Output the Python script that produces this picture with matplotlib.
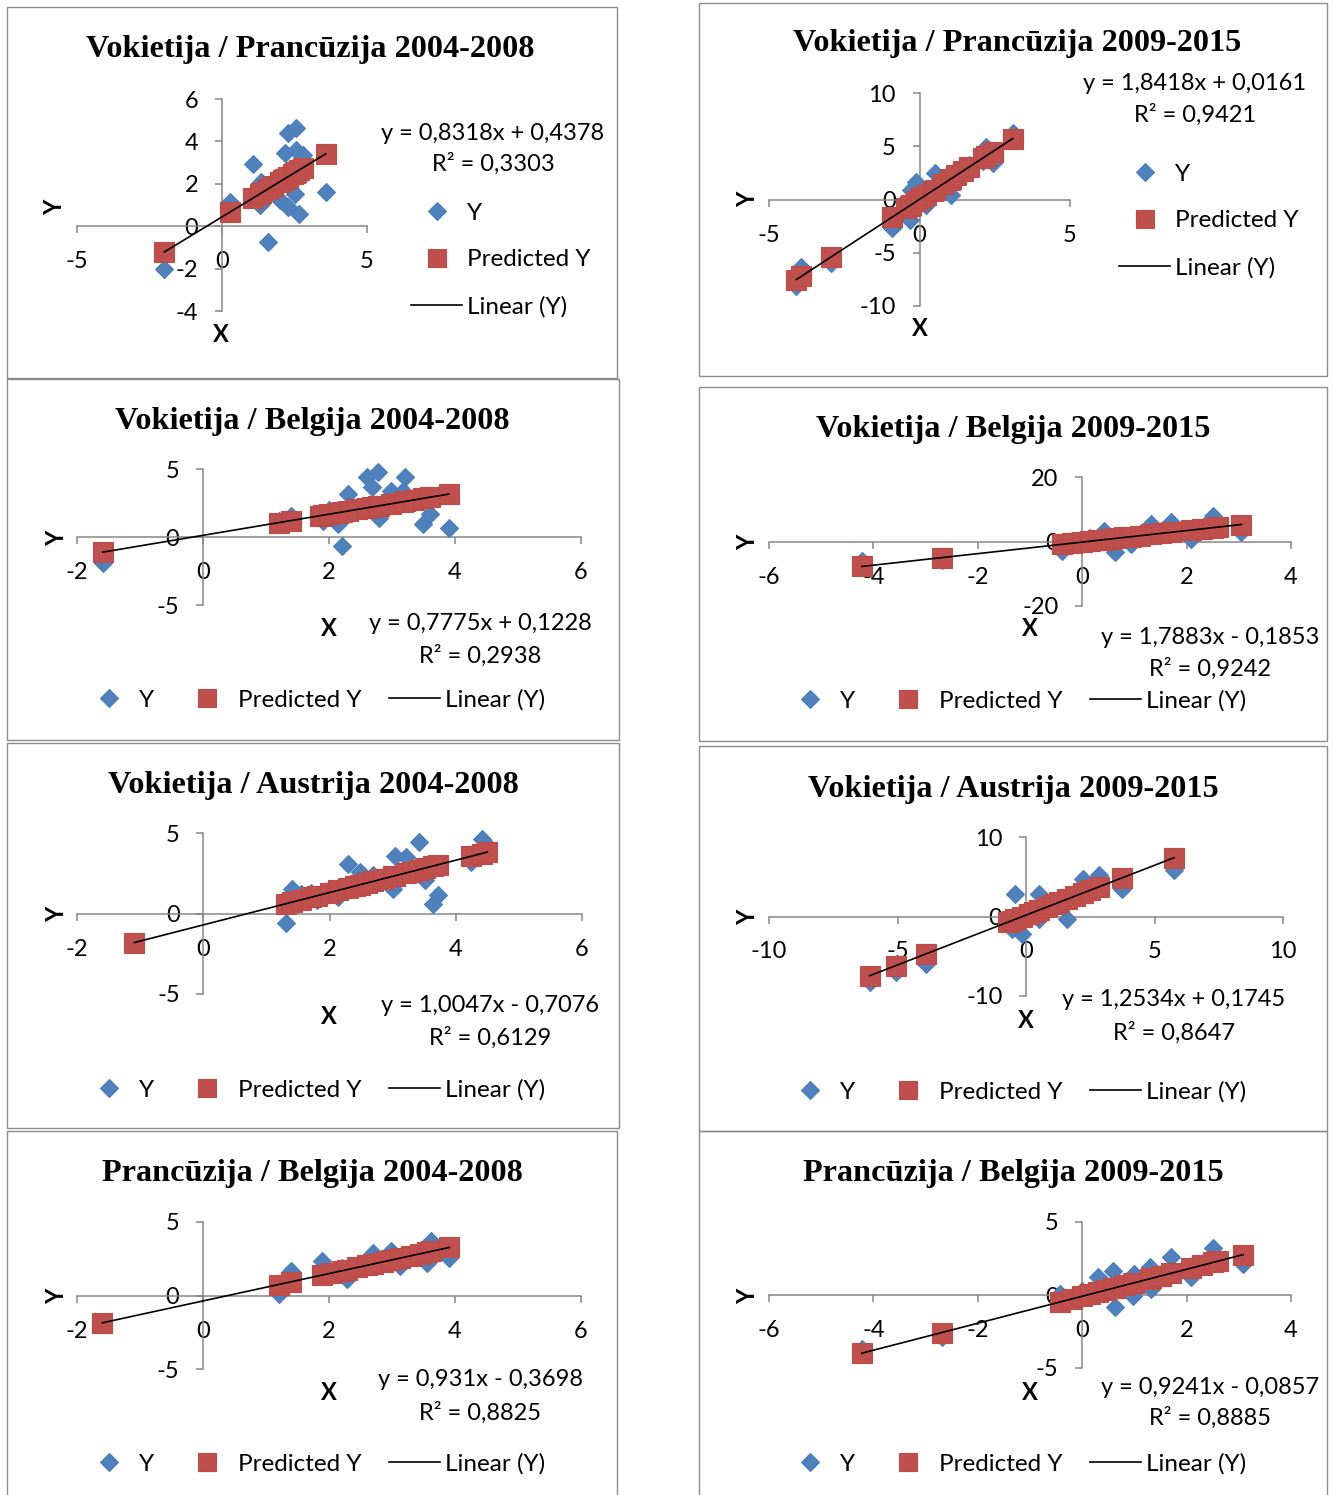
import matplotlib
matplotlib.use("Agg")
import matplotlib.pyplot as plt
from matplotlib.lines import Line2D
from matplotlib.patches import Rectangle

W, H, DPI = 1333, 1495, 100
BLUE, BLUE_E = "#4F81BD", "#4A7EBB"
RED, RED_E = "#C0504D", "#BE4B48"
GRAY = "#868686"
SANS = ["Lato", "DejaVu Sans"]
SERIF = ["Liberation Serif", "DejaVu Serif"]

# ---------------- data ----------------
titles = [
    "Vokietija / Prancūzija 2004-2008", "Vokietija / Prancūzija 2009-2015",
    "Vokietija / Belgija 2004-2008", "Vokietija / Belgija 2009-2015",
    "Vokietija / Austrija 2004-2008", "Vokietija / Austrija 2009-2015",
    "Prancūzija / Belgija 2004-2008", "Prancūzija / Belgija 2009-2015",
]
equations = [
    "y = 0,8318x + 0,4378", "y = 1,8418x + 0,0161",
    "y = 0,7775x + 0,1228", "y = 1,7883x - 0,1853",
    "y = 1,0047x - 0,7076", "y = 1,2534x + 0,1745",
    "y = 0,931x - 0,3698", "y = 0,9241x - 0,0857",
]
r2_labels = [
    "R² = 0,3303", "R² = 0,9421", "R² = 0,2938", "R² = 0,9242",
    "R² = 0,6129", "R² = 0,8647", "R² = 0,8825", "R² = 0,8885",
]
legend_labels = ["Y", "Predicted Y", "Linear (Y)"]

# 1: Vokietija / Prancuzija 2004-2008
x1 = [-1.99, 0.28, 1.08, 1.31, 1.36, 1.59, 1.75, 1.99, 2.10, 2.16, 2.27, 2.27, 2.44, 2.50, 2.56, 2.56, 2.67, 2.78, 3.58]
y1 = [-2.02, 1.14, 2.95, 0.98, 2.08, -0.76, 1.70, 1.22, 2.30, 3.43, 4.38, 0.90, 2.48, 1.53, 4.61, 3.59, 0.58, 3.35, 1.61]
p1 = [-1.217, 0.671, 1.336, 1.527, 1.569, 1.760, 1.893, 2.093, 2.185, 2.235, 2.326, 2.326, 2.467, 2.517, 2.567, 2.567, 2.659, 2.750, 3.416]

# 2: Vokietija / Prancuzija 2009-2015
x2 = [-4.09, -3.93, -2.93, -0.91, -0.44, -0.33, -0.28, -0.11, 0.06, 0.22, 0.44, 0.50, 0.77, 1.00, 1.05, 1.22, 1.44, 1.66, 2.10, 2.21, 2.43, 3.10]
y2 = [-8.10, -6.35, -6.00, -2.70, -0.50, -1.95, 0.88, 1.67, 0.30, -0.53, 1.20, 2.45, 1.80, 1.50, 0.41, 2.77, 2.40, 3.20, 3.60, 4.97, 3.40, 6.23]
p2 = [-7.517, -7.222, -5.381, -1.660, -0.794, -0.592, -0.500, -0.187, 0.127, 0.421, 0.826, 0.937, 1.434, 1.858, 1.950, 2.263, 2.668, 3.073, 3.884, 4.086, 4.492, 5.726]

# 3: Vokietija / Belgija 2004-2008
x3 = [-1.59, 1.20, 1.40, 1.85, 1.91, 2.00, 2.14, 2.20, 2.30, 2.45, 2.60, 2.69, 2.78, 2.80, 2.98, 3.18, 3.21, 3.35, 3.49, 3.61, 3.90]
y3 = [-1.90, 1.20, 1.56, 1.50, 1.18, 2.00, 0.94, -0.67, 3.16, 2.20, 4.40, 3.65, 4.77, 1.43, 3.41, 3.40, 4.40, 2.80, 0.94, 1.68, 0.69]
p3 = [-1.113, 1.056, 1.211, 1.561, 1.608, 1.678, 1.787, 1.833, 1.911, 2.028, 2.144, 2.214, 2.284, 2.300, 2.440, 2.595, 2.619, 2.727, 2.836, 2.930, 3.155]

# 4: Vokietija / Belgija 2009-2015
x4 = [-4.22, -2.69, -0.38, -0.20, 0.00, 0.15, 0.30, 0.42, 0.55, 0.63, 0.80, 0.94, 1.10, 1.32, 1.50, 1.70, 2.09, 2.30, 2.51, 2.60, 3.05]
y4 = [-6.0, -5.6, -2.8, 0.2, -0.8, 1.0, 0.5, 3.4, 1.2, -3.3, 1.5, -0.7, 2.2, 5.5, 2.5, 6.0, 0.8, 4.0, 8.0, 4.5, 3.0]
p4 = [-7.732, -4.996, -0.865, -0.543, -0.185, 0.083, 0.351, 0.566, 0.798, 0.941, 1.245, 1.496, 1.782, 2.175, 2.497, 2.855, 3.552, 3.928, 4.303, 4.464, 5.269]

# 5: Vokietija / Austrija 2004-2008
x5 = [-1.09, 1.31, 1.40, 1.55, 1.70, 1.80, 2.00, 2.14, 2.29, 2.40, 2.49, 2.60, 2.69, 2.85, 3.01, 3.03, 3.21, 3.30, 3.41, 3.52, 3.64, 3.72, 4.24, 4.41, 4.50]
y5 = [-1.86, -0.62, 1.55, 1.20, 1.30, 0.82, 1.50, 1.03, 3.09, 1.80, 2.58, 2.00, 2.37, 2.20, 1.55, 3.60, 3.50, 2.80, 4.43, 2.06, 0.62, 1.13, 3.20, 4.64, 4.23]
p5 = [-1.803, 0.608, 0.699, 0.850, 1.000, 1.101, 1.302, 1.442, 1.593, 1.704, 1.794, 1.905, 1.995, 2.156, 2.316, 2.337, 2.517, 2.608, 2.718, 2.829, 2.949, 3.030, 3.552, 3.723, 3.814]

# 6: Vokietija / Austrija 2009-2015
x6 = [-6.08, -5.07, -3.89, -0.70, -0.56, -0.42, -0.14, 0.10, 0.30, 0.49, 0.49, 0.80, 1.10, 1.30, 1.60, 1.90, 2.22, 2.50, 2.85, 3.75, 5.76]
y6 = [-8.3, -7.0, -6.0, -0.5, -1.56, 2.86, -2.2, 0.5, 0.8, 2.86, -0.3, 1.2, 1.5, 2.0, -0.3, 2.4, 4.76, 3.0, 5.18, 3.5, 5.81]
p6 = [-7.446, -6.180, -4.701, -0.703, -0.527, -0.352, -0.001, 0.300, 0.551, 0.789, 0.789, 1.177, 1.553, 1.804, 2.180, 2.556, 2.957, 3.308, 3.747, 4.875, 7.394]

# 7: Prancuzija / Belgija 2004-2008
x7 = [-1.60, 1.20, 1.40, 1.89, 2.05, 2.20, 2.29, 2.45, 2.60, 2.70, 2.85, 2.99, 3.13, 3.30, 3.45, 3.56, 3.62, 3.91]
y7 = [-1.85, 0.07, 1.66, 2.34, 1.50, 1.90, 1.09, 2.00, 2.30, 2.90, 2.20, 3.00, 2.00, 2.60, 2.80, 2.20, 3.70, 2.57]
p7 = [-1.860, 0.747, 0.934, 1.390, 1.539, 1.678, 1.762, 1.911, 2.051, 2.144, 2.284, 2.414, 2.544, 2.702, 2.842, 2.944, 3.000, 3.270]

# 8: Prancuzija / Belgija 2009-2015
x8 = [-4.22, -2.69, -0.42, -0.20, 0.00, 0.15, 0.31, 0.45, 0.59, 0.63, 0.80, 0.97, 1.00, 1.29, 1.32, 1.50, 1.70, 2.09, 2.30, 2.51, 2.60, 3.08]
y8 = [-3.7, -2.9, 0.07, -0.3, 0.3, 0.1, 1.2, 0.5, 1.66, -0.84, 0.6, -0.05, 1.43, 1.89, 0.41, 1.2, 2.57, 1.2, 2.1, 3.25, 2.2, 2.11]
p8 = [-3.985, -2.571, -0.474, -0.270, -0.086, 0.053, 0.201, 0.330, 0.460, 0.496, 0.654, 0.811, 0.838, 1.106, 1.134, 1.300, 1.485, 1.846, 2.040, 2.234, 2.317, 2.760]

xs = [x1, x2, x3, x4, x5, x6, x7, x8]
ys = [y1, y2, y3, y4, y5, y6, y7, y8]
ps = [p1, p2, p3, p4, p5, p6, p7, p8]

xticks = [[-5, 0, 5], [-5, 0, 5], [-2, 0, 2, 4, 6], [-6, -4, -2, 0, 2, 4],
          [-2, 0, 2, 4, 6], [-10, -5, 0, 5, 10], [-2, 0, 2, 4, 6], [-6, -4, -2, 0, 2, 4]]
yticks = [[-4, -2, 0, 2, 4, 6], [-10, -5, 0, 5, 10], [-5, 0, 5], [-20, 0, 20],
          [-5, 0, 5], [-10, 0, 10], [-5, 0, 5], [-5, 0, 5]]

# ---------------- layout (pixels) ----------------
frames = [(7, 7, 617, 378), (699, 3, 1327, 376), (7, 379, 619, 740), (699, 387, 1327, 741),
          (7, 743, 619, 1128), (699, 746, 1327, 1131), (7, 1131, 617, 1500), (699, 1131, 1327, 1500)]
plot_px = [(77, 99, 367, 311), (769, 93, 1070, 306), (77, 469, 581, 605), (769, 477, 1291, 606),
           (77, 833, 582, 994), (769, 837, 1283, 996), (77, 1222, 581, 1369), (769, 1222, 1291, 1368)]
title_pos = [(310, 50), (1017, 44), (312, 421), (1013, 430), (313, 786), (1013, 790), (312, 1174), (1013, 1174)]
eq_pos = [(493, 133), (1195, 84), (480, 623), (1210, 637), (490, 1005), (1174, 1000), (480, 1380), (1210, 1387)]
r2_dy = [31, 31, 33, 32, 33, 33, 33, 31]
xlab_pos = [(221, 334), (920, 329), (329, 628), (1030, 629), (329, 1017), (1026, 1020), (329, 1392), (1030, 1392)]
ylab_pos = [(55, 207), (748, 199), (57, 538), (748, 542), (57, 914), (748, 917), (57, 1296), (748, 1296)]
# legend: (left, center y, vertical?)
leg_pos = [(411, 260, True), (1119, 221, True), (83, 700, False), (784, 701, False),
           (83, 1090, False), (784, 1092, False), (83, 1464, False), (784, 1464, False)]

FS_TICK = 17
FS_LEG = 17.5
FS_TITLE = 23.2

fig = plt.figure(figsize=(W / DPI, H / DPI), dpi=DPI)
fig.patch.set_facecolor("white")
bg = fig.add_axes([0, 0, 1, 1], zorder=0)
bg.set_xlim(0, W)
bg.set_ylim(H, 0)
bg.axis("off")

for i in range(8):
    l, t, r, b = frames[i]
    bg.add_patch(Rectangle((l, t), r - l, b - t, fill=False, ec="#8C8C8C", lw=1.0))

    pl, pt, pr, pb = plot_px[i]
    ax = fig.add_axes([pl / W, 1 - pb / H, (pr - pl) / W, (pb - pt) / H], zorder=2)
    ax.patch.set_alpha(0)
    ax.set_xlim(xticks[i][0], xticks[i][-1])
    ax.set_ylim(yticks[i][0], yticks[i][-1])
    ax.set_xticks(xticks[i])
    ax.set_yticks(yticks[i])
    ax.set_xticklabels([str(v) for v in xticks[i]])
    ax.set_yticklabels([str(v) for v in yticks[i]])
    for s in ("top", "right"):
        ax.spines[s].set_visible(False)
    ax.spines["left"].set_position(("data", 0))
    ax.spines["bottom"].set_position(("data", 0))
    for s in ("left", "bottom"):
        ax.spines[s].set_color(GRAY)
        ax.spines[s].set_linewidth(1.1)
    ax.tick_params(axis="both", direction="out", length=5, width=1.1, color=GRAY,
                   labelsize=FS_TICK, labelcolor="black")
    ax.tick_params(axis="x", pad=13)
    ax.tick_params(axis="y", pad=12)
    for lab in ax.get_xticklabels() + ax.get_yticklabels():
        lab.set_fontfamily(SANS)

    x, y, p = xs[i], ys[i], ps[i]
    ax.plot(x, y, ls="none", marker="D", ms=9.3, mfc=BLUE, mec=BLUE_E, mew=0.8,
            clip_on=False, zorder=3)
    ax.plot(x, p, ls="none", marker="s", ms=14.3, mfc=RED, mec=RED_E, mew=0.8,
            clip_on=False, zorder=4)
    ax.plot(x, p, color="black", lw=1.2, clip_on=False, zorder=5)

    tx, ty = title_pos[i]
    bg.text(tx, ty, titles[i], ha="center", va="center", fontsize=FS_TITLE,
            fontweight="bold", family=SERIF)
    ex, ey = eq_pos[i]
    bg.text(ex, ey, equations[i], ha="center", va="center", fontsize=FS_TICK, family=SANS)
    bg.text(ex, ey + r2_dy[i], r2_labels[i], ha="center", va="center", fontsize=FS_TICK, family=SANS)
    xx, xy = xlab_pos[i]
    bg.text(xx, xy, "X", ha="center", va="center", fontsize=17, fontweight="bold", family=SANS)
    yx, yy = ylab_pos[i]
    bg.text(yx, yy, "Y", ha="center", va="center", fontsize=17, fontweight="bold",
            family=SANS, rotation=90)

    handles = [
        Line2D([], [], ls="none", marker="D", ms=8.8, mfc=BLUE, mec=BLUE_E, mew=0.8),
        Line2D([], [], ls="none", marker="s", ms=13, mfc=RED, mec=RED_E, mew=0.8),
        Line2D([], [], color="black", lw=1.2),
    ]
    lx, ly, vert = leg_pos[i]
    ax.legend(handles, legend_labels, loc="center left", bbox_to_anchor=(lx, ly),
              bbox_transform=bg.transData, frameon=False, borderpad=0, borderaxespad=0,
              ncol=1 if vert else 3, handlelength=2.1, handletextpad=0.21,
              columnspacing=1.13, labelspacing=1.05,
              prop={"family": SANS, "size": FS_LEG})

fig.savefig("out.png", dpi=DPI)
